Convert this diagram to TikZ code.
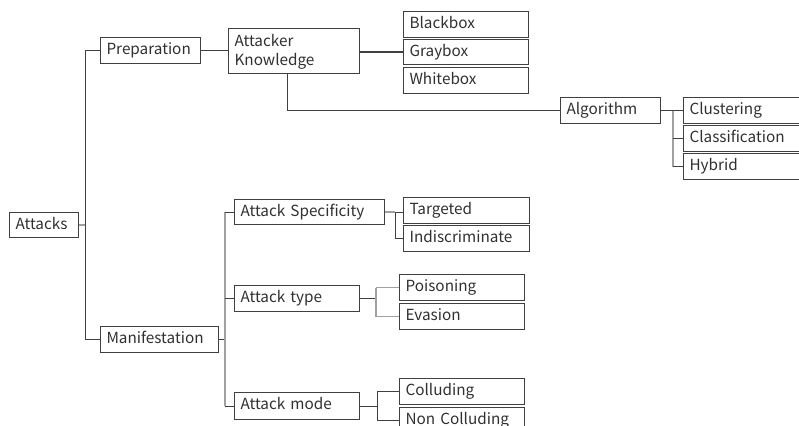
\documentclass[tikz,border=0pt]{standalone}
\usepackage{fontspec}
\setmainfont{Noto Sans CJK JP}
\definecolor{edge}{HTML}{404040}
\definecolor{edgelt}{HTML}{A0A0A0}
\definecolor{ink}{HTML}{303030}

\tikzset{
	box/.style={draw=edge, line width=1.1, anchor=north west, align=left,
		inner xsep=6, inner ysep=0, text=ink, font=\fontsize{15.3}{19}\selectfont,
		text height=17.3, text depth=8.7, minimum height=26},
	link/.style={draw=edge, line width=1.1},
	linklt/.style={draw=edgelt, line width=1.6},
}

\begin{document}
\begin{tikzpicture}[x=1pt, y=-1pt]
		\useasboundingbox (0,0) rectangle (799,425);
		\clip (0,0) rectangle (799,425);

		% root and first level
		\node [box, text width=57, minimum height=25, text depth=7.7] (attacks) at (9,212) {Attacks};
		\node [box, text width=88] (prep) at (100,37) {Preparation};
		\node [box, text width=106] (manif) at (100,326) {Manifestation};

		% preparation side
		\node [box, text width=119, minimum height=45, text height=17.7, text depth=27.3] (know) at (228,28) {Attacker\\Knowledge};
		\node [box, text width=113] (black) at (403,11) {Blackbox};
		\node [box, text width=113, minimum height=25, text depth=7.7] (gray) at (403,39) {Graybox};
		\node [box, text width=113] (white) at (403,67) {Whitebox};
		\node [box, text width=88] (algo) at (560,97) {Algorithm};
		\node [box, text width=113] (clust) at (683,97) {Clustering};
		\node [box, text width=113] (classif) at (683,125) {Classification};
		\node [box, text width=113] (hybrid) at (683,153) {Hybrid};

		% manifestation side
		\node [box, text width=138, minimum height=25, text depth=7.7] (spec) at (234,199) {Attack Specificity};
		\node [box, text width=113] (atype) at (234,285) {Attack type};
		\node [box, text width=113, minimum height=27, text depth=9.7] (amode) at (234,392) {Attack mode};
		\node [box, text width=114] (target) at (403,197) {Targeted};
		\node [box, text width=114] (indisc) at (403,225) {Indiscriminate};
		\node [box, text width=113] (poison) at (399,274) {Poisoning};
		\node [box, text width=113] (evasion) at (399,303) {Evasion};
		\node [box, text width=113] (collude) at (399,378) {Colluding};
		\node [box, text width=113] (noncollude) at (399,407) {Non Colluding};

		% trunk
		\draw [linklt] (attacks.east) -- ++(6,0) coordinate (trunk);
		\draw [link] (trunk |- prep.west) -- (trunk |- manif.west);
		\draw [link] (trunk |- prep.west) -- (prep.west);
		\draw [link] (trunk |- manif.west) -- (manif.west);

		\draw [link] (prep.east) -- (know.west |- prep.east);
		\draw [link] (know.east |- gray.west) -- (gray.west);
		\draw [link] ([xshift=-6.5]know.south) |- (algo.west);

		\draw [link] (algo.east) -- ++(12,0) coordinate (algofork);
		\draw [linklt] (algofork) |- (hybrid.west);
		\foreach \n in {clust, classif, hybrid}
			\draw [link] (algofork |- \n.west) -- (\n.west);

		\draw [link] (manif.east) -- ++(6,0) coordinate (manfork);
		\draw [linklt] (manfork |- spec.west) -- (manfork |- amode.west);
		\foreach \n in {spec, atype, amode}
			\draw [link] (manfork |- \n.west) -- (\n.west);

		\draw [linklt] (spec.east) -- ++(10,0) coordinate (specfork);
		\draw [link] (specfork) |- (indisc.west);
		\draw [link] (specfork) -- (target.west |- specfork);

		\draw [link] (atype.east) -- ++(16,0) coordinate (typefork);
		\draw [linklt] (typefork |- poison.west) -- (typefork |- evasion.west);
		\foreach \n in {poison, evasion}
			\draw [linklt] (typefork |- \n.west) -- (\n.west);

		\draw [link] (amode.east) -- ++(17,0) coordinate (modefork);
		\draw [link] (modefork |- collude.west) -- (modefork |- noncollude.west);
		\foreach \n in {collude, noncollude}
			\draw [link] (modefork |- \n.west) -- (\n.west);
	\end{tikzpicture}
\end{document}
